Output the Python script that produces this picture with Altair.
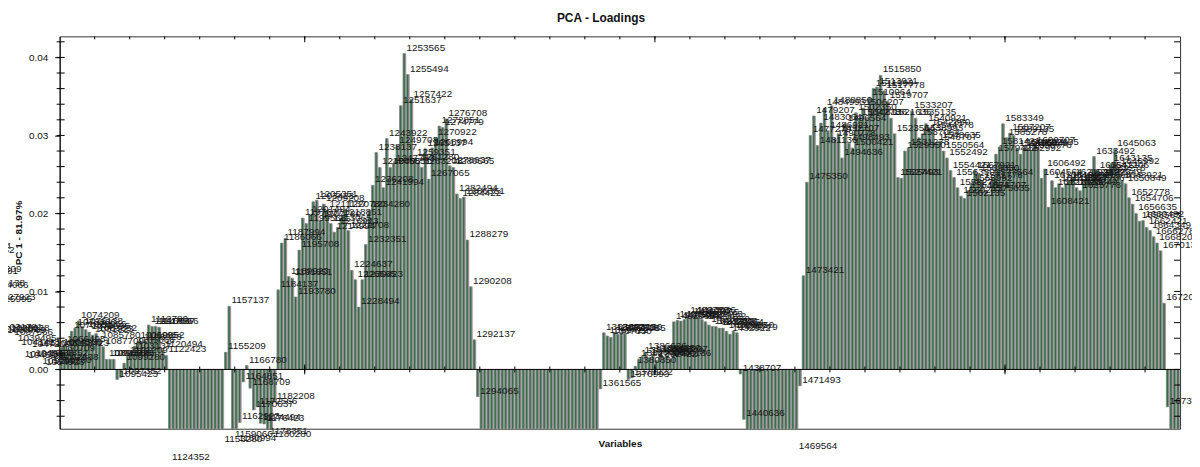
import altair as alt
import pandas as pd

# ---------------- values ----------------
first_variable = 1064566.18   # label of the first bar inside the frame
variable_step = 1928.5625     # spacing between consecutive variable labels
first_index = -26             # bars left of the frame: only their labels are visible
n_visible = 320               # bars inside the frame

left_hidden = [0.0150, 0.0146, 0.0118, 0.0121, 0.0103, 0.0100, 0.0083, 0.0085, 0.0044, 0.0047,
               0.0043, 0.0045, 0.0040, 0.0032, 0.0028, 0.0012, 0.0011, 0.0025, 0.0013, 0.0026,
               0.0003, 0.0002, 0.0014, 0.0004, 0.0020, 0.0008]
block_a = [0.0028, 0.0031, 0.0026, 0.0049, 0.0053, 0.0062, 0.0055, 0.0051, 0.0048, 0.0044,
           0.0046, 0.0036, 0.0029, 0.0013, 0.0013, 0.0013, -0.0013, -0.0010, 0.0008, 0.0017,
           0.0023, 0.0030, 0.0036, 0.0034, 0.0037, 0.0057, 0.0055, 0.0055, 0.0054, 0.0025,
           0.0018]
neg_b = [-0.0120, -0.0152, -0.0160, -0.0149, -0.0171, -0.0165, -0.0158, -0.0176, -0.0169, -0.0155,
         -0.0162, -0.0174, -0.0150, -0.0145, -0.0141, -0.0097]
peak_c = [0.0022, 0.0081]
mix_d = [-0.0091, -0.0095, -0.0068, -0.0016, 0.0005, -0.0024, -0.0052, -0.0048, -0.0069, -0.0070,
         -0.0087, -0.0090, -0.0042]
hump_e = [0.0102, 0.0162, 0.0168, 0.0119, 0.0117, 0.0093, 0.0153, 0.0194, 0.0187, 0.0198,
          0.0215, 0.0217, 0.0191, 0.0212, 0.0204, 0.0187, 0.0176, 0.0182, 0.0194, 0.0204,
          0.0178, 0.0127, 0.0115, 0.0080, 0.0115, 0.0160, 0.0204, 0.0236, 0.0278, 0.0259,
          0.0233, 0.0296, 0.0259, 0.0264, 0.0287, 0.0338, 0.0405, 0.0378, 0.0346, 0.0271,
          0.0265, 0.0259, 0.0283, 0.0244, 0.0284, 0.0297, 0.0312, 0.0310, 0.0321, 0.0261,
          0.0259, 0.0225, 0.0219, 0.0221, 0.0166, 0.0106, 0.0038]
neg_f = [-0.0035,
         -0.0158, -0.0163, -0.0151, -0.0170, -0.0166, -0.0159, -0.0148, -0.0172, -0.0161, -0.0155,
         -0.0167, -0.0153, -0.0160, -0.0169, -0.0157, -0.0164, -0.0150, -0.0173, -0.0162, -0.0156,
         -0.0168, -0.0152, -0.0165, -0.0159, -0.0171, -0.0154, -0.0163, -0.0149, -0.0166, -0.0158,
         -0.0161, -0.0170, -0.0153, -0.0147,
         -0.0025]
small_g = [0.0047, 0.0043, 0.0041, 0.0047, 0.0045, 0.0047, 0.0046,
           -0.0013, -0.0011,
           0.0004, 0.0013, 0.0017, 0.0022, 0.0015, 0.0019, 0.0012, 0.0020, 0.0016, 0.0018, 0.0014]
mid_h = [0.0061, 0.0063, 0.0062, 0.0064, 0.0068, 0.0067, 0.0068, 0.0066, 0.0064, 0.0061,
         0.0057, 0.0055, 0.0055, 0.0053, 0.0053, 0.0049, 0.0045, 0.0049, 0.0047]
neg_i = [-0.0006, -0.0064,
         -0.0151, -0.0160, -0.0168, -0.0155, -0.0163, -0.0149, -0.0172, -0.0158, -0.0166, -0.0153,
         -0.0161, -0.0170, -0.0147, -0.0140,
         -0.0106, -0.0021]
wide_j = [0.0120, 0.0240, 0.0300, 0.0325, 0.0287, 0.0316, 0.0335, 0.0306, 0.0338, 0.0296,
          0.0302, 0.0271, 0.0315, 0.0290, 0.0284, 0.0329, 0.0322, 0.0335, 0.0322, 0.0348,
          0.0360, 0.0362, 0.0377, 0.0357, 0.0344, 0.0322, 0.0302, 0.0246, 0.0245, 0.0280,
          0.0284, 0.0331, 0.0322, 0.0297, 0.0302, 0.0315, 0.0310, 0.0306, 0.0290, 0.0293,
          0.0280, 0.0271, 0.0255, 0.0246, 0.0233, 0.0222, 0.0219, 0.0229, 0.0238, 0.0255,
          0.0251, 0.0242, 0.0229, 0.0225, 0.0246, 0.0276, 0.0285, 0.0315, 0.0297, 0.0303,
          0.0300, 0.0283, 0.0276, 0.0284, 0.0283, 0.0280, 0.0287, 0.0284, 0.0245, 0.0257,
          0.0208, 0.0242, 0.0233, 0.0238, 0.0233, 0.0238, 0.0242, 0.0246, 0.0233, 0.0229,
          0.0238, 0.0246, 0.0242, 0.0273, 0.0255, 0.0246, 0.0251, 0.0255, 0.0264, 0.0282,
          0.0259, 0.0242, 0.0238, 0.0220, 0.0212, 0.0200, 0.0190, 0.0191, 0.0182, 0.0178,
          0.0170, 0.0162, 0.0152, 0.0085]
end_k = [-0.0048, -0.0150, -0.0162, -0.0155]

y_major = [0.0, 0.01, 0.02, 0.03, 0.04]
y_ticks = [-0.006, -0.004, -0.002, 0.0, 0.002, 0.004, 0.006, 0.008, 0.01, 0.012, 0.014, 0.016,
           0.018, 0.02, 0.022, 0.024, 0.026, 0.028, 0.03, 0.032, 0.034, 0.036, 0.038, 0.04, 0.042]
x_ticks = [10, 20, 30, 40, 50, 60, 70, 80, 90, 100, 110, 120, 130, 140, 150, 160, 170, 180,
           190, 200, 210, 220, 230, 240, 250, 260, 270, 280, 290, 300, 310]
x_long_ticks = [70, 170, 270]

# ---------------- table ----------------
loadings = (left_hidden + block_a + neg_b + peak_c + mix_d + hump_e + neg_f + small_g
            + mid_h + neg_i + wide_j + end_k)
rows = []
for k, v in enumerate(loadings):
    i = first_index + k
    rows.append({
        "i": i,
        "band_l": i, "band_r": i + 1,
        "bar_l": i + 0.08, "bar_r": i + 0.70,
        "xc": i + 0.5,
        "loading": v,
        "zero": 0.0,
        "label": str(int(round(first_variable + i * variable_step))),
    })
df = pd.DataFrame(rows)

W, H = 1128, 395
xs = alt.Scale(domain=[0, n_visible], nice=False, zero=False)
ys = alt.Scale(domain=[-0.0076, 0.0427], nice=False, zero=False)
FONT = "Liberation Sans"

x_axis = alt.Axis(title="Variables", labels=False, ticks=False, domain=False, grid=False,
                  titleFontWeight="bold", titleFontSize=10, titlePadding=10, titleColor="#111",
                  titleFont=FONT)
y_axis = alt.Axis(title="PC 1 - 81.97%", values=y_major, format=".2f", tickSize=5,
                  tickColor="#000", domainColor="#000", labelFontSize=10, labelPadding=7,
                  labelColor="#111", labelFont=FONT, grid=False, titleFontWeight="bold",
                  titleFontSize=10, titlePadding=5, titleColor="#111", titleFont=FONT)


def X(field):
    return alt.X(field, type="quantitative", scale=xs, axis=x_axis)


def Y(field):
    return alt.Y(field, type="quantitative", scale=ys, axis=y_axis)


base = alt.Chart(df)

under = base.mark_bar(clip=True, color="#c7a0c0").encode(
    x=X("band_l"), x2="band_r", y=Y("loading"), y2="zero",
)
bars = base.mark_bar(clip=True, fill="#2e7042", stroke="#909090", strokeWidth=0.7).encode(
    x=X("bar_l"), x2="bar_r", y=Y("loading"), y2="zero",
)
labels = base.mark_text(align="left", baseline="alphabetic", dx=2, dy=-3, fontSize=10,
                        color="#161616", font=FONT).encode(
    x=X("xc"), y=Y("loading"), text="label:N",
)

zero_line = alt.Chart(pd.DataFrame({"z": [0.0]})).mark_rule(color="#000", strokeWidth=1).encode(
    y=Y("z")
)
xt = pd.DataFrame({"b": x_ticks, "z": [0.0] * len(x_ticks)})
xlt = pd.DataFrame({"b": x_long_ticks, "z": [0.0] * len(x_long_ticks)})
zero_ticks = alt.Chart(xt).mark_rule(color="#000", yOffset=-3, y2Offset=3).encode(
    x=X("b"), y=Y("z"), y2="z"
)
zero_long = alt.Chart(xlt).mark_rule(color="#000", yOffset=-5, y2Offset=5).encode(
    x=X("b"), y=Y("z"), y2="z"
)
top_ticks = alt.Chart(xt).mark_rule(color="#000").encode(
    x=X("b"), y=alt.value(0), y2=alt.value(3)
)
top_long = alt.Chart(xlt).mark_rule(color="#000").encode(
    x=X("b"), y=alt.value(0), y2=alt.value(6)
)
yt = pd.DataFrame({"t": y_ticks})
left_ticks = alt.Chart(yt).mark_rule(color="#000").encode(
    y=Y("t"), x=alt.value(-3), x2=alt.value(5)
)
right_ticks = alt.Chart(yt).mark_rule(color="#000").encode(
    y=Y("t"), x=alt.value(W - 6), x2=alt.value(W)
)

chart = alt.layer(
    under, bars, labels, zero_line, zero_ticks, zero_long, top_ticks, top_long,
    left_ticks, right_ticks,
).properties(
    width=W, height=H,
    title=alt.TitleParams(text="PCA - Loadings", fontSize=12, fontWeight="bold", font=FONT,
                          anchor="middle", frame="group", dx=-19, offset=11, color="#111"),
    autosize=alt.AutoSizeParams(type="none"),
    padding={"left": 52, "top": 27, "right": 12, "bottom": 37},
).configure(font=FONT).configure_view(stroke="#333", strokeWidth=1)

chart.save("out.html", embed_options={"renderer": "svg", "actions": False})
